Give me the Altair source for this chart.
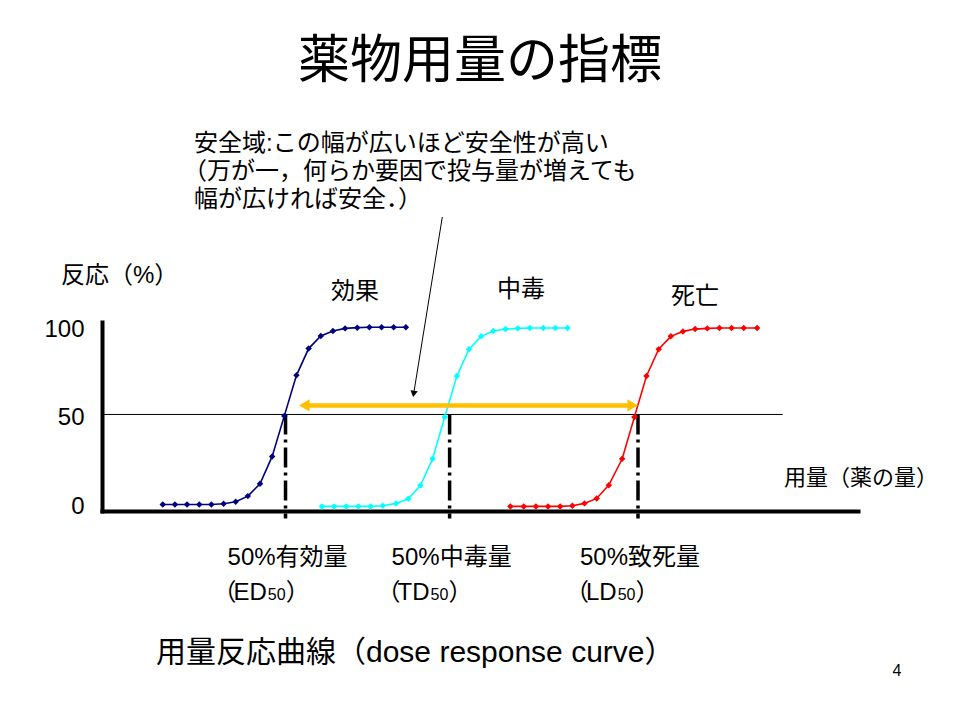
import altair as alt
import pandas as pd

# ---------------- data ----------------
series_names = ["効果", "中毒", "死亡"]
series_colors = ["#000080", "#00FFFF", "#FF0000"]

effect_dose = [5, 6, 7, 8, 9, 10, 11, 12, 13, 14, 15, 16, 17, 18, 19, 20, 21, 22, 23, 24, 25]
effect_pct = [0, 0, 0, 0, 0, 0.4, 1.5, 4.7, 11.7, 27.1, 50, 72.9, 88, 95.1, 97.9, 99.4, 99.8, 100, 100, 100, 100]

toxic_dose = [18.1, 19.1, 20.1, 21.1, 22.1, 23.1, 24.2, 25.2, 26.2, 27.2, 28.2, 29.2, 30.2, 31.2, 32.2, 33.2, 34.2, 35.2, 36.3, 37.3, 38.3]
toxic_pct = [-1.1, -1.1, -1.1, -1.1, -1.1, -0.7, 0.6, 3.2, 10.7, 25.8, 49.3, 72.5, 87.6, 94.9, 97.9, 99, 99.4, 99.6, 99.6, 99.6, 99.6]

lethal_dose = [33.6, 34.7, 35.7, 36.7, 37.7, 38.7, 39.7, 40.7, 41.7, 42.8, 43.8, 44.8, 45.8, 46.8, 47.8, 48.8, 49.8, 50.8, 51.8, 52.8, 53.9]
lethal_pct = [-1.1, -1.1, -1.1, -1.1, -1.1, -0.7, 0.6, 3.4, 10.9, 25.8, 49.3, 72.5, 87.6, 94.9, 97.7, 99, 99.4, 99.6, 99.6, 99.6, 99.6]

d50_dose = [15.1, 28.6, 44.1]
d50_names = ["50%有効量", "50%中毒量", "50%致死量"]
d50_abbr = ["ED", "TD", "LD"]

y_ticks = [0, 50, 100]
ref_level = 50.8        # the horizontal 50 % line
ref_end = 56.0
margin_level = 55.9     # yellow safety-margin arrow
margin_from = 16.2
margin_to = 44.1
pointer_start = (28.0, 162.3)
pointer_tip = (25.6, 60.6)

annotation_lines = [
    "安全域:この幅が広いほど安全性が高い",
    "（万が一，何らか要因で投与量が増えても",
    "幅が広ければ安全．）",
]

# ---------------- layout ----------------
W, H = 756, 189
OX, OY = 102, 322                      # page position of the plot origin
CJK = "Noto Sans CJK JP"
MIX = "Liberation Sans, Noto Sans CJK JP"
LAT = "Liberation Sans"

xs = alt.Scale(domain=[0, 62.2], nice=False, zero=False)
ys = alt.Scale(domain=[-3.7, 103.0], nice=False, zero=False)
xaxis = alt.Axis(title=None, labels=False, ticks=False, grid=False,
                 domainWidth=4, domainColor="black", domainCap="square")
yaxis = alt.Axis(title=None, values=y_ticks, ticks=False, grid=False,
                 domainWidth=4, domainColor="black", domainCap="square",
                 labelFontSize=24, labelFont=LAT, labelColor="black",
                 labelPadding=18, labelOffset=2)


def X(f):
    return alt.X(f, type="quantitative", scale=xs, axis=xaxis)


def Y(f):
    return alt.Y(f, type="quantitative", scale=ys, axis=yaxis)


def XD(v):
    return alt.XDatum(v, type="quantitative", scale=xs, axis=xaxis)


def YD(v):
    return alt.YDatum(v, type="quantitative", scale=ys, axis=yaxis)


one = pd.DataFrame({"k": [0]})

curves = pd.DataFrame({
    "dose": effect_dose + toxic_dose + lethal_dose,
    "pct": effect_pct + toxic_pct + lethal_pct,
    "series": [series_names[0]] * len(effect_dose)
    + [series_names[1]] * len(toxic_dose)
    + [series_names[2]] * len(lethal_dose),
})
marks50 = pd.DataFrame({"dose": d50_dose})

layers = []

# 50 % horizontal line
layers.append(alt.Chart(one).mark_rule(color="black", strokeWidth=1).encode(
    x=XD(0), x2=alt.X2Datum(ref_end), y=YD(ref_level)))

# dash-dot verticals at ED50 / TD50 / LD50
layers.append(alt.Chart(marks50).mark_rule(color="black", strokeWidth=3.5,
                                           strokeDash=[20, 5, 3, 5]).encode(
    x=X("dose"), y=YD(ref_level), y2=alt.Y2Datum(-8.0)))

# dose response curves
layers.append(alt.Chart(curves).mark_line(
    strokeWidth=1.6,
    point=alt.OverlayMarkDef(filled=True, shape="diamond", size=42, opacity=1),
).encode(
    x=X("dose"), y=Y("pct"),
    color=alt.Color("series:N", scale=alt.Scale(domain=series_names, range=series_colors), legend=None),
))

# yellow double arrow (safety margin)
layers.append(alt.Chart(one).mark_rule(color="#FFC000", strokeWidth=4.5).encode(
    x=XD(margin_from + 0.4), x2=alt.X2Datum(margin_to - 0.4), y=YD(margin_level)))
layers.append(alt.Chart(one).mark_point(shape="triangle-left", filled=True, size=150,
                                        color="#FFC000", opacity=1).encode(
    x=XD(margin_from + 0.44), y=YD(margin_level)))
layers.append(alt.Chart(one).mark_point(shape="triangle-right", filled=True, size=150,
                                        color="#FFC000", opacity=1).encode(
    x=XD(margin_to - 0.44), y=YD(margin_level)))

# thin pointer arrow from the note to the yellow arrow
head_c = (pointer_tip[0] + 0.04, pointer_tip[1] + 1.8)
layers.append(alt.Chart(one).mark_rule(color="black", strokeWidth=1).encode(
    x=XD(pointer_start[0]), y=YD(pointer_start[1]),
    x2=alt.X2Datum(head_c[0]), y2=alt.Y2Datum(head_c[1])))
layers.append(alt.Chart(one).mark_point(shape="triangle-down", filled=True, size=55,
                                        color="black", opacity=1, angle=9.2).encode(
    x=XD(head_c[0]), y=YD(head_c[1])))


def txt(s, px, py, size, align="left", font=MIX, baseline="middle"):
    return alt.Chart(one).mark_text(text=s, align=align, baseline=baseline, fontSize=size,
                                    font=font, color="black").encode(
        x=alt.value(px - OX), y=alt.value(py - OY))


# texts
layers.append(txt("薬物用量の指標", 480, 62, 52, align="center", font=CJK))
note_x = [194, 183, 194]
for i, line in enumerate(annotation_lines):
    layers.append(txt(line, note_x[i], 144 + 28 * i, 24))
layers.append(txt("反応（%）", 61, 276, 24))
layers.append(txt(series_names[0], 331, 292, 24, font=CJK))
layers.append(txt(series_names[1], 497, 290, 24, font=CJK))
layers.append(txt(series_names[2], 671, 297, 24, font=CJK))
layers.append(txt("用量（薬の量）", 784, 478, 22, font=CJK))
layers.append(txt("用量反応曲線（dose response curve）", 156, 653, 30))
layers.append(txt("4", 897, 671, 16, align="center", font=LAT))

# labels under the dash-dot lines
arial_w = {"E": 0.667, "D": 0.722, "T": 0.611, "L": 0.556}
for dose, name, abbr in zip(d50_dose, d50_names, d50_abbr):
    w = sum(arial_w[c] for c in abbr) * 24
    pieces = [
        (name, -58, 565, 24, "left", MIX),
        ("（", -49, 600, 24, "right", CJK),
        (abbr, -52, 600, 24, "left", LAT),
        ("50", -52 + w + 1, 600, 16, "left", LAT),
        ("）", -52 + w + 1 + 17.8, 600, 24, "left", CJK),
    ]
    for s, ddx, py, size, align, font in pieces:
        layers.append(alt.Chart(one).mark_text(
            text=s, align=align, baseline="alphabetic", fontSize=size, font=font,
            color="black", dx=ddx).encode(x=XD(dose), y=alt.value(py - OY)))

chart = alt.layer(*layers).properties(
    width=W, height=H,
    padding={"left": OX - 8, "top": OY - 8, "right": 944 - (OX - 8) - W, "bottom": 704 - (OY - 8) - H},
    autosize=alt.AutoSizeParams(type="none"),
    background="white",
).configure_view(stroke=None)

chart.save("out.html", embed_options={"renderer": "svg", "actions": False})
